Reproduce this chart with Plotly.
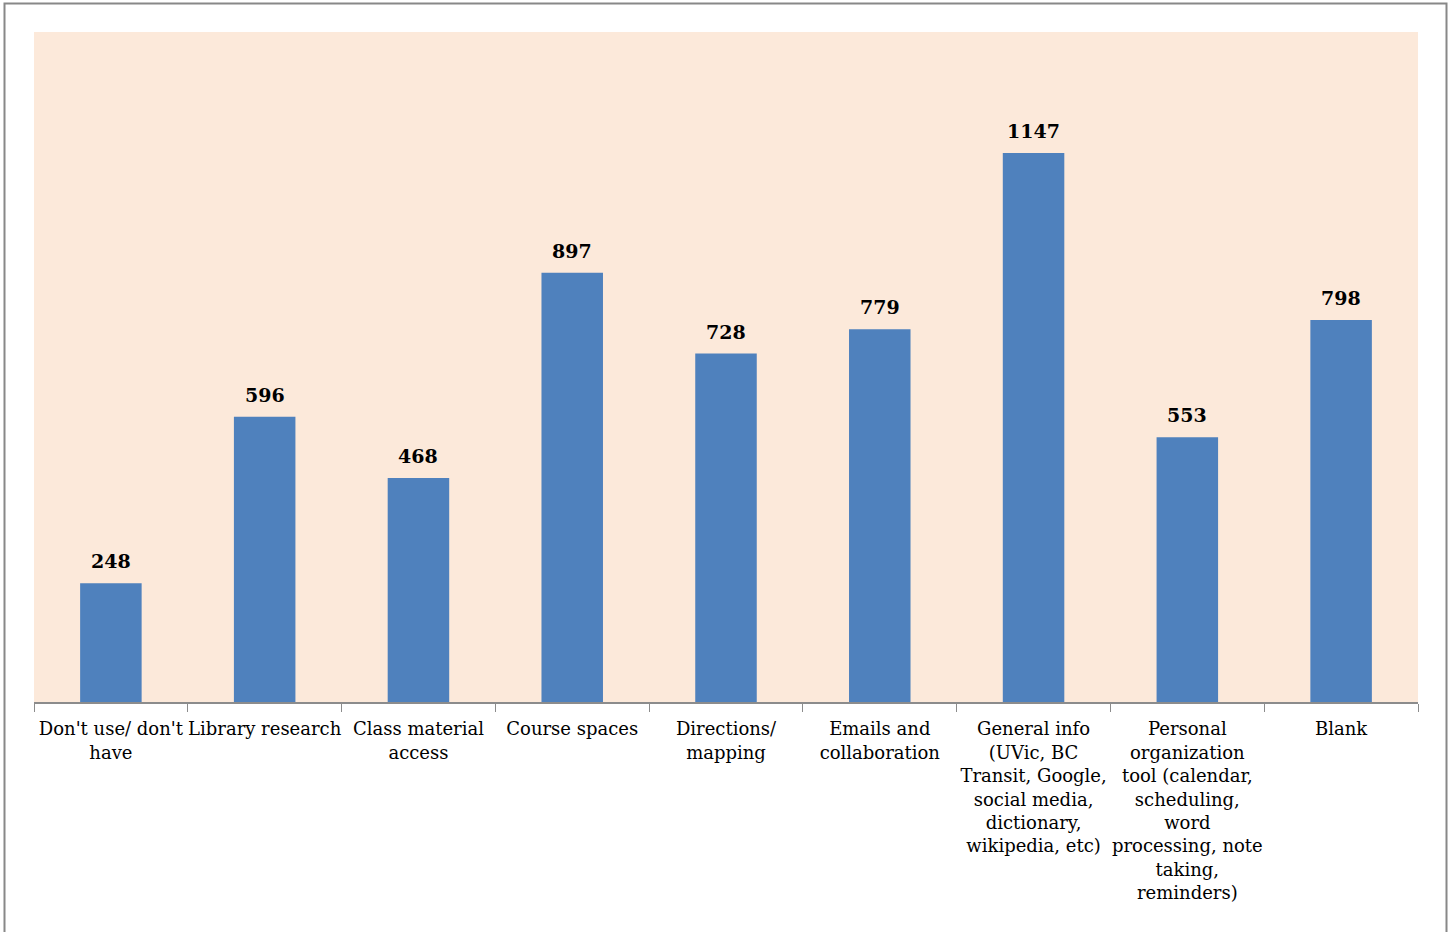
import plotly.graph_objects as go

# Categories (with the line breaks as they appear in the chart)
categories = [
    "Don't use/ don't<br>have",
    "Library research",
    "Class material<br>access",
    "Course spaces",
    "Directions/<br>mapping",
    "Emails and<br>collaboration",
    "General info<br>(UVic, BC<br>Transit, Google,<br>social media,<br>dictionary,<br>wikipedia, etc)",
    "Personal<br>organization<br>tool (calendar,<br>scheduling,<br>word<br>processing, note<br>taking,<br>reminders)",
    "Blank",
]
counts = [248, 596, 468, 897, 728, 779, 1147, 553, 798]

W, H = 1453, 932
ml, mr, mt, mb = 34, 35, 32, 230
pw, ph = W - ml - mr, H - mt - mb

serif = "DejaVu Serif"

fig = go.Figure(go.Bar(
    x=categories,
    y=counts,
    marker=dict(color="#4F81BD", line=dict(width=0)),
    hoverinfo="skip",
))

# value labels above the bars
for c, v in zip(categories, counts):
    fig.add_annotation(
        x=c, y=v, text=str(v), showarrow=False,
        yanchor="bottom", yshift=9,
        font=dict(family=serif, size=19, color="black", weight="bold"),
    )

# outer chart border
fig.add_shape(
    type="rect", xref="paper", yref="paper",
    x0=(4.5 - ml) / pw, x1=(1446.5 - ml) / pw,
    y0=-(mb + 40) / ph, y1=1 + (mt - 3.5) / ph,
    line=dict(color="#888888", width=2), fillcolor="rgba(0,0,0,0)",
    layer="below",
)

fig.update_layout(
    width=W, height=H,
    margin=dict(l=ml, r=mr, t=mt, b=mb, autoexpand=False),
    paper_bgcolor="white",
    plot_bgcolor="#FCE9DA",
    bargap=0.6,
    showlegend=False,
    font=dict(family=serif, size=18, color="black"),
)
fig.update_xaxes(
    showline=True, linecolor="#8C8C8C", linewidth=1.5,
    ticks="outside", tickson="boundaries", ticklen=8, tickcolor="#8C8C8C",
    tickfont=dict(family=serif, size=18, color="black"),
    tickangle=0, automargin=False,
    ticklabelstandoff=10,
    showgrid=False,
)
fig.update_yaxes(visible=False, range=[0, 1400], automargin=False)

fig.write_html(
    "out.html",
    config={"displayModeBar": False},
    post_script="document.body.style.margin='0';",
)
